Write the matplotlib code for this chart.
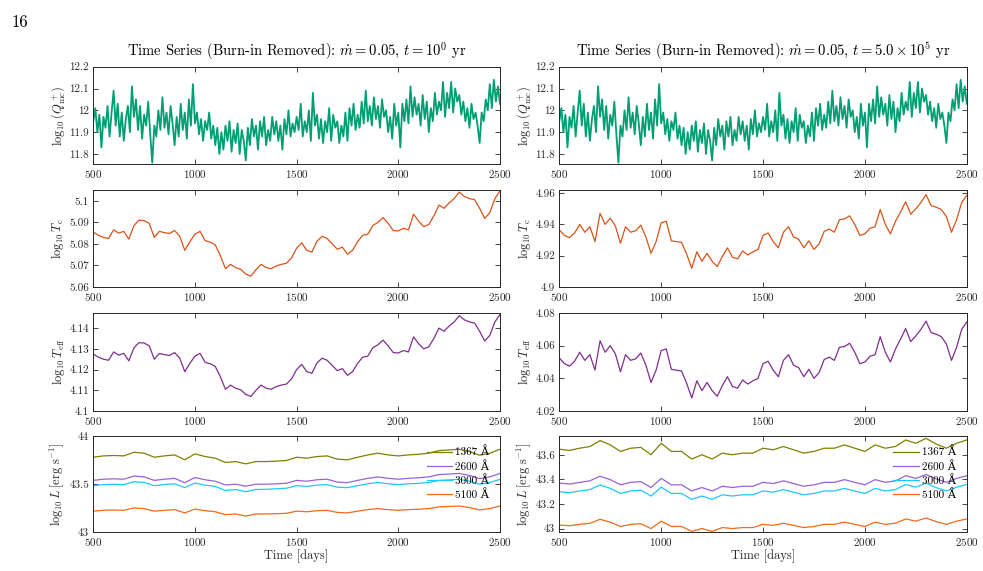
import numpy as np
import matplotlib
matplotlib.use('Agg')
import matplotlib.pyplot as plt
from matplotlib.ticker import FormatStrFormatter

# -------------------------------------------------------------------------------------------------------------------- #
# 数据
# -------------------------------------------------------------------------------------------------------------------- #
t_q = np.arange(500, 2501, 10)  # 10 天间隔
t_mid = np.arange(500, 2501, 25)  # 25 天间隔
t_lum = np.arange(500, 2501, 50)  # 50 天间隔

# log10(Q+_mc), 两个面板相同
q_mc = [
    11.95, 12.01, 11.90, 11.98, 11.83, 11.97, 11.92, 12.02, 11.88, 11.99,
    12.09, 11.93, 12.03, 11.88, 11.99, 11.86, 11.96, 12.02, 11.90, 12.11,
    11.97, 12.05, 11.91, 12.02, 11.87, 11.98, 11.93, 12.04, 11.89, 11.76,
    11.93, 11.88, 12.00, 11.91, 12.06, 11.92, 11.99, 11.89, 12.02, 11.94,
    11.84, 11.97, 11.88, 12.03, 11.91, 11.99, 11.87, 12.05, 11.93, 12.12,
    11.94, 11.99, 11.89, 11.96, 11.86, 11.95, 11.91, 11.99, 11.87, 11.93,
    11.84, 11.92, 11.80, 11.90, 11.82, 11.93, 11.86, 11.95, 11.81, 11.91,
    11.85, 11.94, 11.80, 11.91, 11.86, 11.77, 11.92, 11.84, 11.96, 11.88,
    11.93, 11.82, 11.95, 11.88, 11.97, 11.84, 11.91, 11.86, 11.97, 11.89,
    11.95, 11.86, 11.93, 11.82, 11.96, 11.89, 12.00, 11.88, 11.94, 11.90,
    11.97, 11.91, 12.03, 11.88, 11.95, 11.90, 12.00, 11.86, 12.08, 11.93,
    11.98, 11.87, 11.96, 11.85, 11.95, 11.90, 12.01, 11.86, 11.98, 11.92,
    11.95, 11.85, 11.93, 11.88, 11.99, 11.86, 12.01, 11.93, 12.03, 11.91,
    11.98, 11.92, 12.04, 11.94, 12.09, 11.95, 12.02, 11.93, 12.06, 11.96,
    12.02, 11.92, 12.05, 11.97, 12.00, 11.90, 11.97, 11.87, 12.03, 11.93,
    11.99, 11.83, 12.03, 11.95, 12.05, 11.94, 12.11, 11.97, 12.06, 11.98,
    12.03, 11.93, 12.07, 11.96, 12.04, 11.90, 12.01, 11.95, 12.08, 11.98,
    12.04, 12.00, 12.13, 11.97, 12.08, 12.01, 12.13, 11.99, 12.10, 12.04,
    12.07, 11.98, 12.04, 11.95, 12.01, 11.92, 12.03, 11.96, 11.99, 11.93,
    11.85, 11.99, 11.95, 12.05, 12.00, 12.12, 12.01, 12.14, 12.04, 12.11,
    12.03,
]

# log10 T_c
tc_left = [
    5.0855, 5.0840, 5.0830, 5.0825, 5.0865, 5.0850, 5.0858, 5.0822, 5.0885, 5.0910,
    5.0908, 5.0895, 5.0830, 5.0858, 5.0852, 5.0848, 5.0862, 5.0835, 5.0770, 5.0810,
    5.0845, 5.0858, 5.0815, 5.0808, 5.0795, 5.0745, 5.0685, 5.0705, 5.0690, 5.0682,
    5.0660, 5.0650, 5.0680, 5.0705, 5.0690, 5.0685, 5.0698, 5.0705, 5.0710, 5.0735,
    5.0780, 5.0805, 5.0770, 5.0762, 5.0812, 5.0835, 5.0825, 5.0800, 5.0775, 5.0785,
    5.0752, 5.0770, 5.0810, 5.0840, 5.0845, 5.0885, 5.0900, 5.0922, 5.0895, 5.0862,
    5.0860, 5.0872, 5.0865, 5.0938, 5.0905, 5.0880, 5.0890, 5.0930, 5.0980, 5.0965,
    5.0990, 5.1010, 5.1040, 5.1020, 5.1010, 5.1005, 5.0965, 5.0918, 5.0945, 5.1010,
    5.1045,
]
tc_right = [
    4.9365, 4.9330, 4.9315, 4.9345, 4.9400, 4.9350, 4.9385, 4.9290, 4.9470, 4.9400,
    4.9440, 4.9390, 4.9280, 4.9385, 4.9350, 4.9360, 4.9395, 4.9320, 4.9215, 4.9290,
    4.9410, 4.9420, 4.9295, 4.9290, 4.9285, 4.9210, 4.9120, 4.9225, 4.9165, 4.9215,
    4.9165, 4.9130, 4.9195, 4.9250, 4.9190, 4.9180, 4.9230, 4.9205, 4.9225, 4.9240,
    4.9330, 4.9345, 4.9290, 4.9250, 4.9350, 4.9385, 4.9320, 4.9305, 4.9250, 4.9295,
    4.9240, 4.9275, 4.9355, 4.9370, 4.9350, 4.9430, 4.9435, 4.9455, 4.9400, 4.9330,
    4.9340, 4.9375, 4.9385, 4.9495, 4.9400, 4.9340, 4.9420, 4.9480, 4.9545, 4.9465,
    4.9500, 4.9540, 4.9590, 4.9520, 4.9510, 4.9495, 4.9450, 4.9350, 4.9430, 4.9540,
    4.9585,
]

# log10 T_eff
teff_left = [
    4.1275, 4.1260, 4.1250, 4.1245, 4.1285, 4.1270, 4.1278, 4.1242, 4.1305, 4.1330,
    4.1328, 4.1315, 4.1250, 4.1278, 4.1272, 4.1268, 4.1282, 4.1255, 4.1190, 4.1230,
    4.1265, 4.1278, 4.1235, 4.1228, 4.1215, 4.1165, 4.1105, 4.1125, 4.1110, 4.1102,
    4.1080, 4.1070, 4.1100, 4.1125, 4.1110, 4.1105, 4.1118, 4.1125, 4.1130, 4.1155,
    4.1200, 4.1225, 4.1190, 4.1182, 4.1232, 4.1255, 4.1245, 4.1220, 4.1195, 4.1205,
    4.1172, 4.1190, 4.1230, 4.1260, 4.1265, 4.1305, 4.1320, 4.1342, 4.1315, 4.1282,
    4.1280, 4.1292, 4.1285, 4.1358, 4.1325, 4.1300, 4.1310, 4.1350, 4.1400, 4.1385,
    4.1410, 4.1430, 4.1460, 4.1440, 4.1430, 4.1425, 4.1385, 4.1338, 4.1365, 4.1430,
    4.1465,
]
teff_right = [
    4.0525, 4.0490, 4.0475, 4.0505, 4.0560, 4.0510, 4.0545, 4.0450, 4.0630, 4.0560,
    4.0600, 4.0550, 4.0440, 4.0545, 4.0510, 4.0520, 4.0555, 4.0480, 4.0375, 4.0450,
    4.0570, 4.0580, 4.0455, 4.0450, 4.0445, 4.0370, 4.0280, 4.0385, 4.0325, 4.0375,
    4.0325, 4.0290, 4.0355, 4.0410, 4.0350, 4.0340, 4.0390, 4.0365, 4.0385, 4.0400,
    4.0490, 4.0505, 4.0450, 4.0410, 4.0510, 4.0545, 4.0480, 4.0465, 4.0410, 4.0455,
    4.0400, 4.0435, 4.0515, 4.0530, 4.0510, 4.0590, 4.0595, 4.0615, 4.0560, 4.0490,
    4.0500, 4.0535, 4.0545, 4.0655, 4.0560, 4.0500, 4.0580, 4.0640, 4.0705, 4.0625,
    4.0660, 4.0700, 4.0750, 4.0680, 4.0670, 4.0655, 4.0610, 4.0510, 4.0590, 4.0700,
    4.0745,
]

# log10 L, 四个波长
lum_labels = ['1367 Å', '2600 Å', '3000 Å', '5100 Å']
lum_colors = ['#808000', '#9b62d3', '#1ec8ff', '#f26a1b']
lum_left = {
    '1367': [43.779, 43.793, 43.797, 43.793, 43.831, 43.821, 43.779, 43.793, 43.803, 43.752,
             43.814, 43.786, 43.769, 43.724, 43.734, 43.710, 43.734, 43.734, 43.738, 43.745,
             43.779, 43.769, 43.786, 43.793, 43.759, 43.752, 43.779, 43.803, 43.821, 43.803,
             43.793, 43.803, 43.810, 43.821, 43.848, 43.855, 43.862, 43.838, 43.800, 43.821,
             43.862],
    '2600': [43.538, 43.550, 43.554, 43.550, 43.583, 43.574, 43.538, 43.550, 43.559, 43.514,
             43.568, 43.544, 43.529, 43.490, 43.498, 43.477, 43.498, 43.498, 43.502, 43.508,
             43.538, 43.529, 43.544, 43.550, 43.520, 43.514, 43.538, 43.559, 43.574, 43.559,
             43.550, 43.559, 43.565, 43.574, 43.598, 43.604, 43.610, 43.589, 43.556, 43.574,
             43.610],
    '3000': [43.483, 43.494, 43.497, 43.494, 43.524, 43.516, 43.483, 43.494, 43.502, 43.462,
             43.510, 43.488, 43.475, 43.432, 43.443, 43.420, 43.443, 43.445, 43.450, 43.456,
             43.483, 43.475, 43.488, 43.494, 43.467, 43.462, 43.483, 43.502, 43.516, 43.502,
             43.494, 43.502, 43.507, 43.516, 43.537, 43.543, 43.548, 43.529, 43.499, 43.516,
             43.548],
    '5100': [43.217, 43.226, 43.229, 43.226, 43.251, 43.244, 43.217, 43.226, 43.233, 43.199,
             43.239, 43.222, 43.211, 43.181, 43.188, 43.166, 43.188, 43.188, 43.190, 43.195,
             43.217, 43.211, 43.222, 43.226, 43.204, 43.199, 43.217, 43.233, 43.244, 43.233,
             43.226, 43.233, 43.237, 43.244, 43.262, 43.266, 43.271, 43.255, 43.230, 43.244,
             43.271],
}
lum_right = {
    '1367': [43.645, 43.635, 43.653, 43.667, 43.715, 43.680, 43.627, 43.653, 43.660, 43.600,
             43.693, 43.627, 43.627, 43.565, 43.600, 43.565, 43.613, 43.600, 43.613, 43.613,
             43.653, 43.640, 43.667, 43.640, 43.613, 43.627, 43.653, 43.653, 43.680, 43.653,
             43.627, 43.680, 43.653, 43.667, 43.720, 43.693, 43.733, 43.687, 43.653, 43.693,
             43.720],
    '2600': [43.370, 43.362, 43.376, 43.388, 43.426, 43.398, 43.356, 43.376, 43.382, 43.334,
             43.408, 43.356, 43.356, 43.306, 43.334, 43.306, 43.344, 43.334, 43.344, 43.344,
             43.376, 43.366, 43.388, 43.366, 43.344, 43.356, 43.376, 43.376, 43.398, 43.376,
             43.356, 43.398, 43.376, 43.388, 43.430, 43.408, 43.440, 43.404, 43.376, 43.408,
             43.430],
    '3000': [43.300, 43.292, 43.306, 43.317, 43.355, 43.327, 43.286, 43.306, 43.312, 43.265,
             43.337, 43.286, 43.286, 43.238, 43.265, 43.238, 43.275, 43.265, 43.275, 43.275,
             43.306, 43.296, 43.317, 43.296, 43.275, 43.286, 43.306, 43.306, 43.327, 43.306,
             43.286, 43.327, 43.306, 43.317, 43.359, 43.337, 43.369, 43.333, 43.306, 43.337,
             43.359],
    '5100': [43.030, 43.024, 43.035, 43.044, 43.076, 43.053, 43.018, 43.035, 43.040, 43.001,
             43.061, 43.018, 43.018, 42.978, 43.001, 42.978, 43.009, 43.001, 43.009, 43.009,
             43.035, 43.027, 43.044, 43.027, 43.009, 43.018, 43.035, 43.035, 43.053, 43.035,
             43.018, 43.053, 43.035, 43.044, 43.079, 43.061, 43.087, 43.057, 43.035, 43.061,
             43.079],
}

titles = [r'Time Series (Burn-in Removed): $\dot{m}=0.05$, $t=10^0$ yr',
          r'Time Series (Burn-in Removed): $\dot{m}=0.05$, $t=5.0\times10^5$ yr']

# -------------------------------------------------------------------------------------------------------------------- #
# 样式
# -------------------------------------------------------------------------------------------------------------------- #
plt.rcParams['font.family'] = ['cmr10', 'DejaVu Serif']
plt.rcParams['mathtext.fontset'] = 'cm'
plt.rcParams['axes.formatter.use_mathtext'] = True
plt.rcParams['axes.unicode_minus'] = False
edge = '#262626'

fig = plt.figure(figsize=(9.83, 5.71), dpi=100)
fig.text(0.012, 0.975, '16', fontsize=12, va='top', ha='left')

col_x = [0.0949, 0.569]
col_w = [0.4137, 0.4145]
row_y = [0.7128, 0.4974, 0.2802, 0.0683]
row_h = [0.1704, 0.1699, 0.1716, 0.1681]


def style_axis(ax, ylim, yticks, ylabel):
    ax.set_xlim(500, 2500)
    ax.set_ylim(*ylim)
    ax.set_xticks([500, 1000, 1500, 2000, 2500])
    ax.set_yticks(yticks)
    ax.yaxis.set_major_formatter(FormatStrFormatter('%g'))
    ax.tick_params(direction='in', top=True, right=True, labelsize=8, colors=edge,
                   length=3.5, width=0.6, pad=3)
    for s in ax.spines.values():
        s.set_color(edge)
        s.set_linewidth(0.7)
    ax.set_ylabel(ylabel, fontsize=9, color=edge, labelpad=2)


for c in range(2):
    # Q
    ax = fig.add_axes([col_x[c], row_y[0], col_w[c], row_h[0]])
    ax.plot(t_q, q_mc, color='#009e73', lw=1.3)
    style_axis(ax, (11.754, 12.2), [11.8, 11.9, 12, 12.1, 12.2], r'$\log_{10}(Q^+_{\rm mc})$')
    ax.set_title(titles[c], fontsize=10.5, pad=8)

    # T_c
    ax = fig.add_axes([col_x[c], row_y[1], col_w[c], row_h[1]])
    if c == 0:
        ax.plot(t_mid, tc_left, color='#d95319', lw=0.9)
        style_axis(ax, (5.06, 5.105), [5.06, 5.07, 5.08, 5.09, 5.1], r'$\log_{10}T_{\rm c}$')
    else:
        ax.plot(t_mid, tc_right, color='#d95319', lw=0.9)
        style_axis(ax, (4.9, 4.962), [4.9, 4.92, 4.94, 4.96], r'$\log_{10}T_{\rm c}$')

    # T_eff
    ax = fig.add_axes([col_x[c], row_y[2], col_w[c], row_h[2]])
    if c == 0:
        ax.plot(t_mid, teff_left, color='#7e2f8e', lw=0.9)
        style_axis(ax, (4.1, 4.1473), [4.1, 4.11, 4.12, 4.13, 4.14], r'$\log_{10}T_{\rm eff}$')
    else:
        ax.plot(t_mid, teff_right, color='#7e2f8e', lw=0.9)
        style_axis(ax, (4.02, 4.08), [4.02, 4.04, 4.06, 4.08], r'$\log_{10}T_{\rm eff}$')

    # L
    ax = fig.add_axes([col_x[c], row_y[3], col_w[c], row_h[3]])
    lum = lum_left if c == 0 else lum_right
    for key, lab, col in zip(lum.keys(), lum_labels, lum_colors):
        ax.plot(t_lum, lum[key], color=col, lw=0.9, label=lab)
    if c == 0:
        style_axis(ax, (43, 44), [43, 43.5, 44], r'$\log_{10}L\,[{\rm erg\ s^{-1}}]$')
    else:
        style_axis(ax, (42.973, 43.752), [43, 43.2, 43.4, 43.6], r'$\log_{10}L\,[{\rm erg\ s^{-1}}]$')
    ax.legend(loc='upper right', frameon=False, fontsize=8, handlelength=2.3,
              labelspacing=0.3, borderaxespad=0.55, handletextpad=0.3)
    ax.set_xlabel('Time [days]', fontsize=9, color=edge, labelpad=1)

fig.savefig('out.png', dpi=100)
